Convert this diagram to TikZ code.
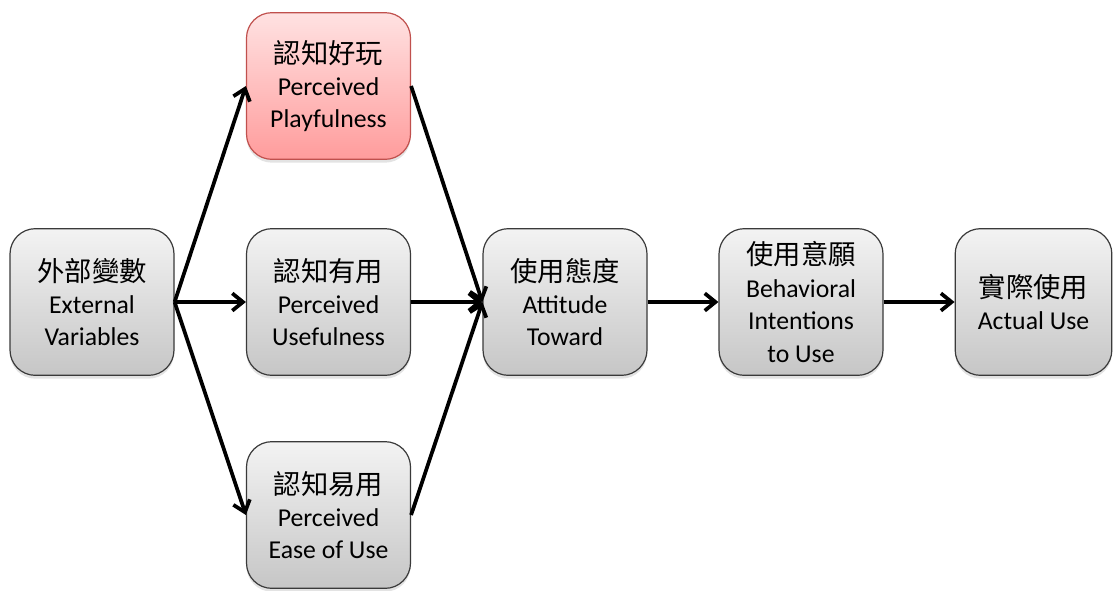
\documentclass[tikz,border=0pt]{standalone}
\usepackage{fontspec}
\setmainfont{Carlito}
\newfontfamily\cjk{Noto Sans CJK TC}
\usetikzlibrary{arrows.meta,shadows}
\definecolor{boxtop}{HTML}{F3F3F3}
\definecolor{boxbot}{HTML}{C6C6C6}
\definecolor{redtop}{HTML}{FFE2E2}
\definecolor{redbot}{HTML}{FF9C9C}
\definecolor{redline}{HTML}{C0504D}
\definecolor{boxline}{HTML}{3A3A3A}
\tikzset{
  box/.style={draw=boxline, line width=0.9pt, rounded corners=19pt,
    top color=boxtop, bottom color=boxbot, minimum width=123pt, minimum height=110pt,
    align=center, inner sep=0pt, font=\fontsize{19.3}{24.3}\selectfont,
    drop shadow={opacity=0.22, shadow xshift=0pt, shadow yshift=-2.5pt}},
  redbox/.style={box, draw=redline, top color=redtop, bottom color=redbot},
  conn/.style={line width=2.8pt, -{Straight Barb[length=8pt,width=13pt,line width=2.8pt]}}
}
\newcommand{\zh}[1]{{\cjk\fontsize{20.5}{24.3}\selectfont #1}}
\begin{document}
\begin{tikzpicture}[x=0.75pt,y=-0.75pt]
\useasboundingbox (0,0) rectangle (1113,590);
\node[box] (ext) at (92,302) {\zh{外部變數}\\External\\Variables};
\node[redbox] (play) at (328.5,86) {\zh{認知好玩}\\Perceived\\Playfulness};
\node[box] (use) at (328.5,302) {\zh{認知有用}\\Perceived\\Usefulness};
\node[box] (ease) at (328.5,515) {\zh{認知易用}\\Perceived\\Ease of Use};
\node[box] (att) at (565,302) {\zh{使用態度}\\Attitude\\Toward};
\node[box] (beh) at (801,302) {\zh{使用意願}\\Behavioral\\Intentions\\to Use};
\node[box, minimum width=117.5pt] (act) at (1033.5,302) {\zh{實際使用}\\Actual Use};
\draw[conn] (ext.east) -- (play.west);
\draw[conn] (ext.east) -- (use.west);
\draw[conn] (ext.east) -- (ease.west);
\draw[conn] (play.east) -- (att.west);
\draw[conn] (use.east) -- (att.west);
\draw[conn] (ease.east) -- (att.west);
\draw[conn] (att.east) -- (beh.west);
\draw[conn] (beh.east) -- (act.west);
\end{tikzpicture}
\end{document}
